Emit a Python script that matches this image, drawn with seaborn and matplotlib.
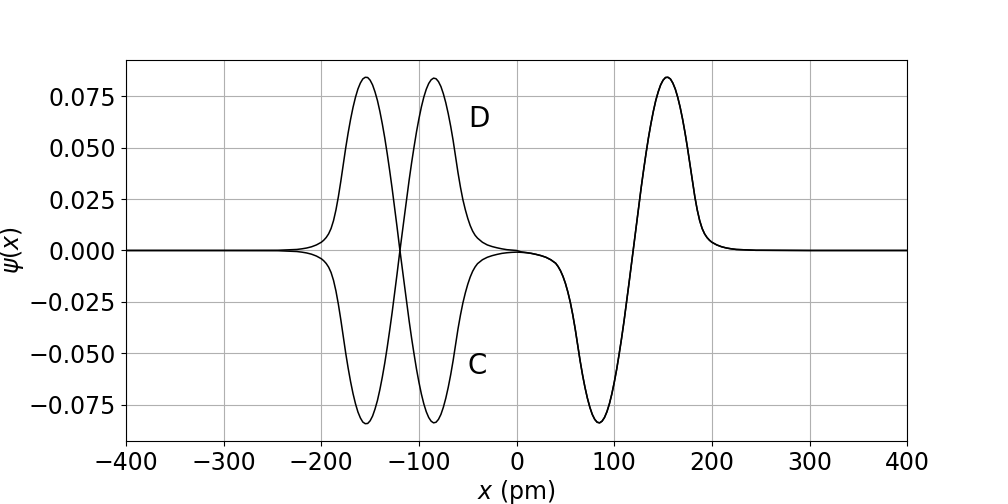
"""
Symmetric / antisymmetric double-well wavefunctions C and D.
"""

import matplotlib
matplotlib.use("Agg")
import matplotlib.pyplot as plt
import seaborn as sns
import numpy as np
import pandas as pd

# |x| sample positions (pm): coarse near 0 and in the tails, finer over the lobes
x_abs = ([0, 5, 10, 15, 20, 25, 30, 35]
         + list(np.arange(40, 200.1, 2.5))
         + list(range(205, 255, 5))
         + [300, 400])

# x >= 0 (C and D lie on top of each other here)
psi_C_right = [
    -0.0008, -0.0009, -0.0011, -0.0014, -0.0019, -0.0025, -0.0033, -0.0045,
    -0.0062, -0.0078, -0.0099, -0.0126, -0.0160, -0.0202, -0.0252, -0.0312, -0.0381, -0.0457,
    -0.0535, -0.0604, -0.0665, -0.0718, -0.0762, -0.0797, -0.0821, -0.0835, -0.0838, -0.0830,
    -0.0812, -0.0784, -0.0746, -0.0698, -0.0641, -0.0577, -0.0504, -0.0427, -0.0344, -0.0255,
    -0.0163, -0.0070, 0.0020, 0.0117, 0.0212, 0.0303, 0.0389, 0.0471, 0.0547, 0.0615,
    0.0676, 0.0729, 0.0771, 0.0805, 0.0828, 0.0841, 0.0842, 0.0834, 0.0814, 0.0785,
    0.0745, 0.0696, 0.0638, 0.0572, 0.0499, 0.0419, 0.0337, 0.0262, 0.0197, 0.0145,
    0.0107, 0.0081, 0.0063, 0.0050, 0.0040,
    0.0027, 0.0018, 0.0012, 0.0008, 0.0005, 0.0004, 0.0003, 0.0002, 0.0001, 0.0001,
    0.0, 0.0,
]
psi_D_right = [
    0.0000, -0.0007, -0.0010, -0.0014, -0.0019, -0.0025, -0.0033, -0.0045,
    -0.0062, -0.0078, -0.0099, -0.0126, -0.0160, -0.0202, -0.0252, -0.0312, -0.0381, -0.0457,
    -0.0535, -0.0604, -0.0665, -0.0718, -0.0762, -0.0797, -0.0821, -0.0835, -0.0838, -0.0830,
    -0.0812, -0.0784, -0.0746, -0.0698, -0.0641, -0.0577, -0.0504, -0.0427, -0.0344, -0.0255,
    -0.0163, -0.0070, 0.0020, 0.0117, 0.0212, 0.0303, 0.0389, 0.0471, 0.0547, 0.0615,
    0.0676, 0.0729, 0.0771, 0.0805, 0.0828, 0.0841, 0.0842, 0.0834, 0.0814, 0.0785,
    0.0745, 0.0696, 0.0638, 0.0572, 0.0499, 0.0419, 0.0337, 0.0262, 0.0197, 0.0145,
    0.0107, 0.0081, 0.0063, 0.0050, 0.0040,
    0.0027, 0.0018, 0.0012, 0.0008, 0.0005, 0.0004, 0.0003, 0.0002, 0.0001, 0.0001,
    0.0, 0.0,
]

# x < 0, listed by increasing |x| starting at x = -5
psi_C_left = [
    -0.0009, -0.0011, -0.0014, -0.0019, -0.0025, -0.0033, -0.0045,
    -0.0064, -0.0080, -0.0101, -0.0129, -0.0164, -0.0206, -0.0255, -0.0314, -0.0381, -0.0457,
    -0.0535, -0.0604, -0.0665, -0.0718, -0.0762, -0.0797, -0.0821, -0.0835, -0.0838, -0.0830,
    -0.0812, -0.0784, -0.0746, -0.0698, -0.0641, -0.0577, -0.0504, -0.0427, -0.0344, -0.0255,
    -0.0163, -0.0070, 0.0020, 0.0117, 0.0212, 0.0303, 0.0389, 0.0471, 0.0547, 0.0615,
    0.0676, 0.0729, 0.0771, 0.0805, 0.0828, 0.0841, 0.0842, 0.0834, 0.0814, 0.0785,
    0.0745, 0.0696, 0.0638, 0.0572, 0.0499, 0.0419, 0.0337, 0.0262, 0.0197, 0.0145,
    0.0107, 0.0081, 0.0063, 0.0050, 0.0040,
    0.0027, 0.0018, 0.0012, 0.0008, 0.0005, 0.0004, 0.0003, 0.0002, 0.0001, 0.0001,
    0.0, 0.0,
]
psi_D_left = [
    0.0002, 0.0004, 0.0008, 0.0013, 0.0019, 0.0027, 0.0040,
    0.0060, 0.0074, 0.0094, 0.0121, 0.0156, 0.0198, 0.0247, 0.0308, 0.0378, 0.0455,
    0.0535, 0.0604, 0.0665, 0.0718, 0.0762, 0.0797, 0.0821, 0.0835, 0.0838, 0.0830,
    0.0812, 0.0784, 0.0746, 0.0698, 0.0641, 0.0577, 0.0504, 0.0427, 0.0344, 0.0255,
    0.0163, 0.0070, -0.0020, -0.0117, -0.0212, -0.0303, -0.0389, -0.0471, -0.0547, -0.0615,
    -0.0676, -0.0729, -0.0771, -0.0805, -0.0828, -0.0841, -0.0842, -0.0834, -0.0814, -0.0785,
    -0.0745, -0.0696, -0.0638, -0.0572, -0.0499, -0.0419, -0.0337, -0.0262, -0.0197, -0.0145,
    -0.0107, -0.0081, -0.0063, -0.0050, -0.0040,
    -0.0027, -0.0018, -0.0012, -0.0008, -0.0005, -0.0004, -0.0003, -0.0002, -0.0001, -0.0001,
    0.0, 0.0,
]

labels = ["C", "D"]
label_pos = [(-50, -0.056), (-50, 0.064)]

x_pm = [-a for a in reversed(x_abs[1:])] + x_abs
psi_C = list(reversed(psi_C_left)) + psi_C_right
psi_D = list(reversed(psi_D_left)) + psi_D_right
df = pd.DataFrame({"x": x_pm, "C": psi_C, "D": psi_D})

fs = 17
fig, ax = plt.subplots(figsize=(10.08, 5.04), dpi=100)
fig.subplots_adjust(left=0.125, right=0.9, bottom=0.125, top=0.881)

for name in labels:
    sns.lineplot(data=df, x="x", y=name, color="black", linewidth=1.1,
                 estimator=None, sort=False, ax=ax)

for name, (tx, ty) in zip(labels, label_pos):
    ax.text(tx, ty, name, fontsize=20, ha="left", va="center")

ax.set_xlim(-400, 400)
ax.grid(True, color="#b0b0b0", linewidth=0.8)
ax.set_xlabel("$x$ (pm)", fontsize=fs, labelpad=2)
ax.set_ylabel(r"$\psi(x)$", fontsize=fs, labelpad=2)
ax.tick_params(labelsize=fs)

plt.savefig("out.png", dpi=100)
